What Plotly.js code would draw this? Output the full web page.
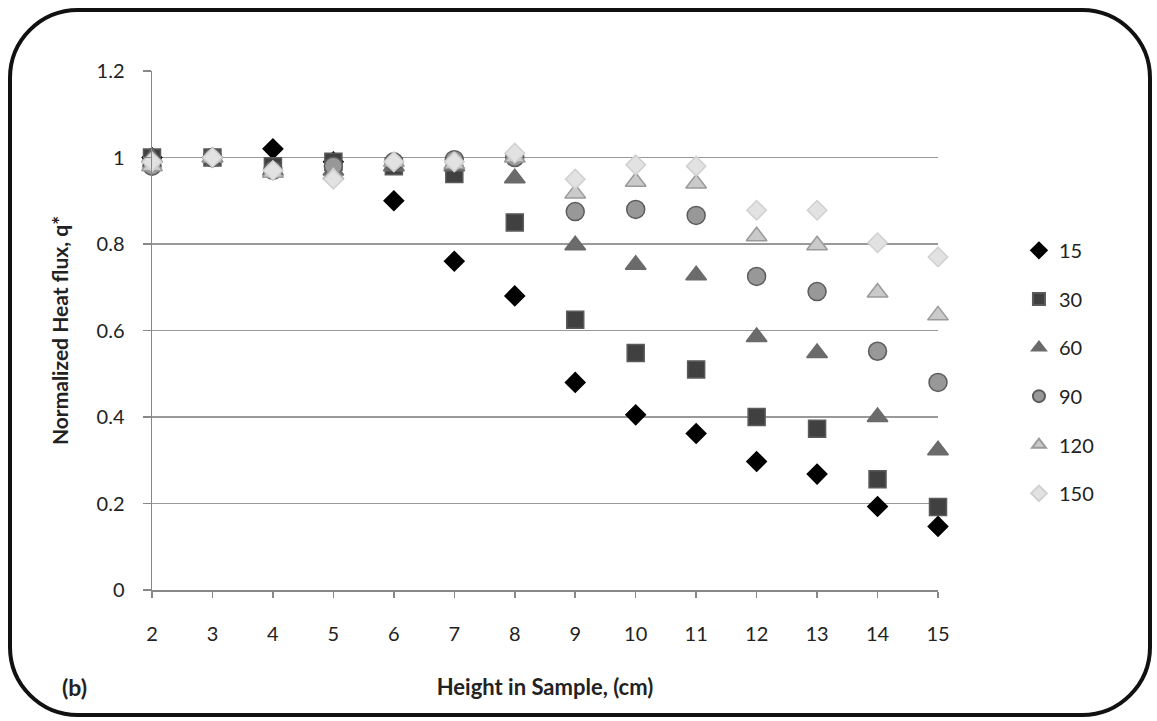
<!DOCTYPE html>
<html>
<head>
<meta charset="utf-8">
<script src="https://cdn.plot.ly/plotly-3.0.1.min.js"></script>
<style>
  html, body { margin: 0; padding: 0; background: #fff; }
  #wrap { position: relative; width: 1157px; height: 721px; }
  #chart { position: absolute; left: 0; top: 0; width: 1157px; height: 721px; }
  #frame { position: absolute; left: 8px; top: 8px; width: 1136px; height: 701px;
           border: 4px solid #111; border-radius: 70px; pointer-events: none; }
</style>
</head>
<body>
<div id="wrap">
  <div id="chart"></div>
  <div id="frame"></div>
</div>
<script>
const heights = [2, 3, 4, 5, 6, 7, 8, 9, 10, 11, 12, 13, 14, 15];
const seriesNames = ["15", "30", "60", "90", "120", "150"];
const q15  = [1.00, 1.00, 1.02, 0.99, 0.90, 0.76, 0.68, 0.48, 0.405, 0.362, 0.297, 0.268, 0.193, 0.147];
const q30  = [1.00, 1.00, 0.98, 0.99, 0.98, 0.962, 0.85, 0.625, 0.548, 0.51, 0.40, 0.373, 0.256, 0.192];
const q60  = [1.00, 1.00, 0.97, 0.97, 0.98, 0.98, 0.952, 0.797, 0.752, 0.728, 0.585, 0.548, 0.40, 0.323];
const q90  = [0.98, 1.00, 0.97, 0.98, 0.99, 0.995, 1.00, 0.875, 0.88, 0.866, 0.725, 0.69, 0.552, 0.48];
const q120 = [0.98, 1.00, 0.965, 0.96, 0.99, 0.985, 1.00, 0.917, 0.944, 0.94, 0.818, 0.797, 0.688, 0.635];
const q150 = [0.99, 1.00, 0.97, 0.95, 0.99, 0.99, 1.01, 0.95, 0.983, 0.98, 0.878, 0.878, 0.803, 0.77];
const tickVals = [2, 3, 4, 5, 6, 7, 8, 9, 10, 11, 12, 13, 14, 15];
const tickText = ["2", "3", "4", "5", "6", "7", "8", "9", "10", "11", "12", "13", "14", "15"];

const values = [q15, q30, q60, q90, q120, q150];
const styles = [
  {symbol: "diamond", size: 15, color: "#000000", line: "#000000"},
  {symbol: "square", size: 17, color: "#404040", line: "#5a5a5a"},
  {symbol: "triangle-up", size: 18, color: "#6b6b6b", line: "#6b6b6b"},
  {symbol: "circle", size: 18, color: "#989898", line: "#5c5c5c"},
  {symbol: "triangle-up", size: 18, color: "#cacaca", line: "#9a9a9a"},
  {symbol: "diamond", size: 15, color: "#e2e2e2", line: "#d0d0d0"}
];

const traces = seriesNames.map((n, i) => ({
  type: "scatter",
  mode: "markers",
  name: n,
  legendgroup: "g" + i,
  x: heights,
  y: values[i],
  cliponaxis: false,
  marker: {symbol: styles[i].symbol, size: styles[i].size, color: styles[i].color,
           line: {color: styles[i].line, width: 1.5}}
}));

const font = "Lato, 'Open Sans', 'Noto Sans', sans-serif";

const layout = {
  width: 1157, height: 721,
  margin: {l: 152, r: 219, t: 71, b: 131},
  paper_bgcolor: "rgba(0,0,0,0)",
  plot_bgcolor: "#ffffff",
  font: {family: font, size: 20, color: "#222"},
  showlegend: true,
  legend: {x: 1.103, y: 0.692, xanchor: "left", yanchor: "top",
           font: {size: 20, color: "#222"}, tracegroupgap: 19.6,
           itemsizing: "constant", itemwidth: 30},
  xaxis: {
    range: [2, 15],
    tickvals: tickVals, ticktext: tickText,
    ticks: "outside", ticklen: 6, tickcolor: "#888", tickwidth: 1.5,
    showline: true, linecolor: "#888", linewidth: 1.5,
    showgrid: false, zeroline: false,
    ticklabelstandoff: 19,
    tickfont: {size: 20, color: "#222"},
    title: {text: "<b>Height in Sample, (cm)</b>", font: {size: 22, color: "#222"}, standoff: 36}
  },
  yaxis: {
    range: [0, 1.2], dtick: 0.2, tick0: 0,
    ticks: "outside", ticklen: 8, tickcolor: "#888", tickwidth: 1.5,
    showline: true, linecolor: "#888", linewidth: 1.5,
    showgrid: true, gridcolor: "#999", gridwidth: 1.5,
    zeroline: false,
    ticklabelstandoff: 14,
    tickfont: {size: 20, color: "#222"},
    title: {text: "<b>Normalized Heat flux, q*</b>", font: {size: 21, color: "#222"}, standoff: 22}
  },
  annotations: [{
    text: "<b>(b)</b>", xref: "paper", yref: "paper",
    x: -0.098, y: -0.187, xanchor: "center", yanchor: "middle",
    showarrow: false, font: {size: 23, color: "#222"}
  }]
};

Plotly.newPlot("chart", traces, layout, {displayModeBar: false, staticPlot: true});
</script>
</body>
</html>
